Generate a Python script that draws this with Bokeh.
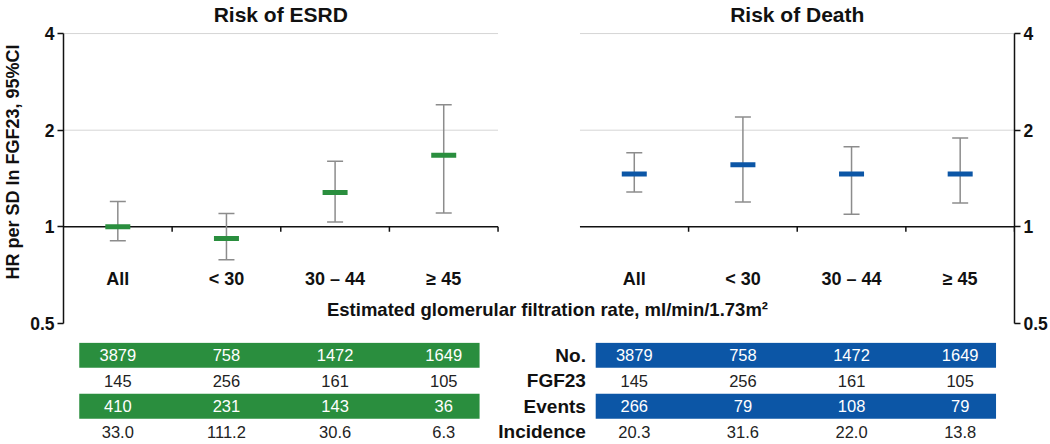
from bokeh.plotting import figure
from bokeh.models import (FactorRange, Range1d, ColumnDataSource, LogAxis,
                          FixedTicker, CustomJSTickFormatter)
from bokeh.transform import dodge
from bokeh.layouts import column
from bokeh.core.properties import value
from bokeh.embed import file_html
from bokeh.resources import INLINE

# ---------------- data ----------------
categories = ["All", "< 30", "30 – 44", "≥ 45"]
panels = ["ESRD", "Death"]
titles = ["Risk of ESRD", "Risk of Death"]

esrd_hr = [1.00, 0.92, 1.28, 1.67]
esrd_lo = [0.905, 0.79, 1.036, 1.105]
esrd_hi = [1.20, 1.10, 1.60, 2.40]

death_hr = [1.46, 1.56, 1.46, 1.46]
death_lo = [1.284, 1.196, 1.095, 1.187]
death_hi = [1.70, 2.20, 1.775, 1.89]

y_ticks = [0.5, 1, 2, 4]
grid_values = [2, 4]

row_labels = ["No.", "FGF23", "Events", "Incidence"]
colored_rows = ["No.", "Events"]
esrd_no = ["3879", "758", "1472", "1649"]
esrd_fgf23 = ["145", "256", "161", "105"]
esrd_events = ["410", "231", "143", "36"]
esrd_incidence = ["33.0", "111.2", "30.6", "6.3"]
death_no = ["3879", "758", "1472", "1649"]
death_fgf23 = ["145", "256", "161", "105"]
death_events = ["266", "79", "108", "79"]
death_incidence = ["20.3", "31.6", "22.0", "13.8"]

x_title = "Estimated glomerular filtration rate, ml/min/1.73m²"
y_title = "HR per SD ln FGF23, 95%CI"

# ---------------- style ----------------
GREEN = "#2a8e3e"
BLUE = "#0c56a6"
panel_colors = {"ESRD": GREEN, "Death": BLUE}
WHISK = "#8c8c8c"
INK = "#111111"
FONT = value("Liberation Sans")

xr = FactorRange(factors=[(p, c) for p in panels for c in categories],
                 group_padding=0.754, range_padding=0, factor_padding=0)

top = figure(width=1050, height=334, x_range=xr, y_range=Range1d(0.5, 5.07),
             y_axis_type="log", x_axis_location=None,
             output_backend="svg", toolbar_location=None,
             min_border_left=63, min_border_right=35,
             min_border_top=0, min_border_bottom=11)
top.grid.visible = False
top.outline_line_color = None
top.background_fill_color = "white"


def style_axis(ax):
    ax.ticker = FixedTicker(ticks=y_ticks, minor_ticks=[])
    ax.formatter = CustomJSTickFormatter(code="return String(tick)")
    ax.bounds = (0.5, 4)
    ax.axis_line_color = INK
    ax.axis_line_width = 1.5
    ax.major_tick_line_color = INK
    ax.major_tick_line_width = 1.5
    ax.major_tick_out = 6
    ax.major_tick_in = 0
    ax.minor_tick_out = 0
    ax.minor_tick_in = 0
    ax.major_label_text_font = "Liberation Sans"
    ax.major_label_text_font_style = "bold"
    ax.major_label_text_font_size = "17.5px"
    ax.major_label_text_color = INK
    ax.major_label_standoff = 3


lax = top.yaxis[0]
style_axis(lax)
lax.axis_label = y_title
lax.axis_label_text_font = "Liberation Sans"
lax.axis_label_text_font_style = "bold"
lax.axis_label_text_font_size = "18px"
lax.axis_label_text_color = INK
lax.axis_label_standoff = 4

rax = LogAxis()
style_axis(rax)
top.add_layout(rax, "right")

# panel frame lines: gridlines and baseline
panel_src = ColumnDataSource(dict(first=[(p, categories[0]) for p in panels],
                                  last=[(p, categories[-1]) for p in panels],
                                  mid=[(p, categories[1]) for p in panels],
                                  title=titles))
for g in grid_values:
    top.segment(x0=dodge("first", -0.5, range=xr), x1=dodge("last", 0.5, range=xr),
                y0=g, y1=g, source=panel_src, line_color="#d6d6d6", line_width=1)
top.segment(x0=dodge("first", -0.5, range=xr), x1=dodge("last", 0.5, range=xr),
            y0=1, y1=1, source=panel_src, line_color=INK, line_width=1.5)

# small ticks on baseline at category boundaries
cat_src = ColumnDataSource(dict(x=[(p, c) for p in panels for c in categories],
                                cat=[c for p in panels for c in categories]))
top.segment(x0=dodge("x", 0.5, range=xr), x1=dodge("x", 0.5, range=xr),
            y0=1, y1=0.965, source=cat_src, line_color=INK, line_width=1.5)

# error bars and point estimates
est_src = ColumnDataSource(dict(
    x=[(p, c) for p in panels for c in categories],
    hr=esrd_hr + death_hr,
    lo=esrd_lo + death_lo,
    hi=esrd_hi + death_hi,
    color=[panel_colors[p] for p in panels for c in categories],
))
top.segment(x0="x", x1="x", y0="lo", y1="hi", source=est_src,
            line_color=WHISK, line_width=1.5)
top.scatter(x="x", y="hi", marker="dash", size=16, line_width=1.5,
            line_color=WHISK, source=est_src)
top.scatter(x="x", y="lo", marker="dash", size=16, line_width=1.5,
            line_color=WHISK, source=est_src)
top.rect(x="x", y="hr", width=25, height=5, width_units="screen",
         height_units="screen", fill_color="color", line_color=None, source=est_src)

# category labels
top.text(x="x", y=0.69, text="cat", source=cat_src, text_font=FONT,
         text_font_style="bold", text_font_size="18px", text_color=INK,
         text_align="center", text_baseline="middle")

# panel titles
top.text(x=dodge("mid", 0.5, range=xr), y=4.6, text="title", source=panel_src,
         text_font=FONT, text_font_style="bold", text_font_size="21px",
         text_color=INK, text_align="center", text_baseline="middle")

# shared x title
xt_src = ColumnDataSource(dict(x=[(panels[0], categories[-1])], t=[x_title]))
top.text(x=dodge("x", 0.955, range=xr), y=0.554, text="t", source=xt_src,
         text_font=FONT, text_font_style="bold", text_font_size="18.5px",
         text_color=INK, text_align="center", text_baseline="middle")

# ---------------- table ----------------
tbl = figure(width=1050, height=110, x_range=xr,
             y_range=FactorRange(factors=row_labels[::-1], range_padding=0),
             x_axis_location=None, y_axis_location=None,
             output_backend="svg", toolbar_location=None,
             min_border_left=63, min_border_right=35,
             min_border_top=8, min_border_bottom=0)
tbl.grid.visible = False
tbl.outline_line_color = None

band_src = ColumnDataSource(dict(
    first=[(p, categories[0]) for p in panels for r in colored_rows],
    last=[(p, categories[-1]) for p in panels for r in colored_rows],
    row=[r for p in panels for r in colored_rows],
    color=[panel_colors[p] for p in panels for r in colored_rows],
))
tbl.hbar(y="row", height=0.98, left=dodge("first", -0.355, range=xr),
         right=dodge("last", 0.33, range=xr), fill_color="color",
         line_color=None, source=band_src)

table_values = {
    "ESRD": [esrd_no, esrd_fgf23, esrd_events, esrd_incidence],
    "Death": [death_no, death_fgf23, death_events, death_incidence],
}
cx, cy, ct, cc = [], [], [], []
for p in panels:
    for r, vals in zip(row_labels, table_values[p]):
        for c, v in zip(categories, vals):
            cx.append((p, c))
            cy.append(r)
            ct.append(v)
            cc.append("white" if r in colored_rows else "#222222")
cell_src = ColumnDataSource(dict(x=cx, y=cy, t=ct, color=cc))
tbl.text(x="x", y="y", text="t", text_color="color", source=cell_src,
         text_font=FONT, text_font_size="16.5px", text_align="center",
         text_baseline="middle")

lab_src = ColumnDataSource(dict(x=[(panels[1], categories[0])] * len(row_labels),
                                y=row_labels, t=row_labels))
tbl.text(x=dodge("x", -0.445, range=xr), y="y", text="t", source=lab_src,
         text_font=FONT, text_font_style="bold", text_font_size="19px",
         text_color=INK, text_align="right", text_baseline="middle")

layout = column(top, tbl, spacing=0)
open("out.html", "w").write(file_html(layout, INLINE))
